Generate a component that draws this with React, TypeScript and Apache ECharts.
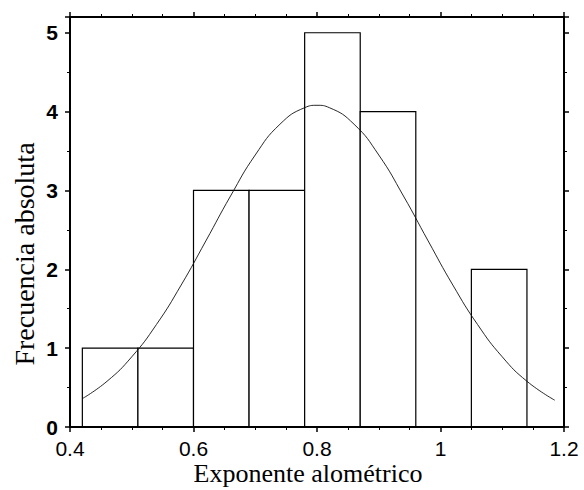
import React, { useEffect, useRef } from "react";
import * as echarts from "echarts";

const binStart = [0.42, 0.51, 0.6, 0.69, 0.78, 0.87, 0.96, 1.05];
const binEnd = [0.51, 0.6, 0.69, 0.78, 0.87, 0.96, 1.05, 1.14];
const counts = [1, 1, 3, 3, 5, 4, 0, 2];

const curveX = [0.42, 0.46, 0.5, 0.54, 0.58, 0.62, 0.66, 0.7, 0.74, 0.78, 0.8, 0.82, 0.86, 0.9, 0.94, 0.98, 1.02, 1.06, 1.1, 1.14, 1.185];
const curveY = [0.36, 0.58, 0.89, 1.3, 1.8, 2.36, 2.93, 3.45, 3.84, 4.05, 4.08, 4.05, 3.84, 3.45, 2.93, 2.36, 1.8, 1.3, 0.89, 0.58, 0.34];

const xTitle = "Exponente alométrico";
const yTitle = "Frecuencia absoluta";

export default function App() {
  const ref = useRef<HTMLDivElement>(null);
  useEffect(() => {
    document.body.style.margin = "0";
    const chart = echarts.init(ref.current!, null, { renderer: "svg" });
    const barData = binStart.map((s, i) => [s, binEnd[i], counts[i]]);
    const curveData = curveX.map((x, i) => [x, curveY[i]]);
    const axisCommon = {
      type: "value" as const,
      splitLine: { show: false },
      axisLine: { show: true, onZero: false, lineStyle: { color: "#000", width: 2 } },
      axisTick: { show: true, inside: false, length: 5, lineStyle: { color: "#000", width: 1.5 } },
      minorTick: { show: true, length: 3, lineStyle: { color: "#000", width: 1 } },
      z: 5,
    };
    chart.setOption({
      animation: false,
      backgroundColor: "#fff",
      grid: { left: 70, right: 20, top: 17, bottom: 63 },
      xAxis: [
        {
          ...axisCommon,
          min: 0.4,
          max: 1.2,
          interval: 0.2,
          minorTick: { ...axisCommon.minorTick, splitNumber: 4 },
          axisLabel: {
            color: "#000",
            fontFamily: "Liberation Sans, Arial, sans-serif",
            fontSize: 21,
            margin: 11,
          },
        },
        {
          ...axisCommon,
          position: "top",
          min: 0.4,
          max: 1.2,
          interval: 0.2,
          minorTick: { ...axisCommon.minorTick, splitNumber: 4 },
          axisLabel: { show: false },
        },
      ],
      yAxis: [
        {
          ...axisCommon,
          min: 0,
          max: 5.2,
          interval: 1,
          minorTick: { ...axisCommon.minorTick, splitNumber: 2 },
          axisLabel: {
            color: "#000",
            fontFamily: "Liberation Sans, Arial, sans-serif",
            fontSize: 21,
            fontWeight: "bold",
            margin: 12,
            showMaxLabel: false,
            formatter: (v: number) => (Number.isInteger(v) ? String(v) : ""),
          },
        },
        {
          ...axisCommon,
          position: "right",
          min: 0,
          max: 5.2,
          interval: 1,
          minorTick: { ...axisCommon.minorTick, splitNumber: 2 },
          axisLabel: { show: false },
        },
      ],
      series: [
        {
          type: "custom",
          xAxisIndex: 0,
          yAxisIndex: 0,
          data: barData,
          encode: { x: [0, 1], y: 2 },
          z: 2,
          renderItem: (params: any, api: any) => {
            const cnt = api.value(2);
            if (!cnt) return null;
            const tl = api.coord([api.value(0), cnt]);
            const br = api.coord([api.value(1), 0]);
            return {
              type: "rect",
              shape: { x: tl[0], y: tl[1], width: br[0] - tl[0], height: br[1] - tl[1] },
              style: { fill: "#fff", stroke: "#000", lineWidth: 1.2 },
            };
          },
        },
        {
          type: "line",
          xAxisIndex: 0,
          yAxisIndex: 0,
          data: curveData,
          smooth: true,
          showSymbol: false,
          symbol: "none",
          z: 3,
          lineStyle: { color: "#111", width: 0.9 },
        },
      ],
      graphic: [
        {
          type: "text",
          x: 308,
          y: 473,
          style: {
            text: xTitle,
            font: "26px 'Liberation Serif', 'Times New Roman', serif",
            fill: "#000",
            align: "center",
            verticalAlign: "middle",
          },
        },
        {
          type: "text",
          x: 24,
          y: 254,
          rotation: Math.PI / 2,
          style: {
            text: yTitle,
            font: "28px 'Liberation Serif', 'Times New Roman', serif",
            fill: "#000",
            align: "center",
            verticalAlign: "middle",
          },
        },
      ],
    });
    return () => chart.dispose();
  }, []);
  return <div ref={ref} style={{ position: "absolute", left: 0, top: 0, width: 584, height: 490 }} />;
}
